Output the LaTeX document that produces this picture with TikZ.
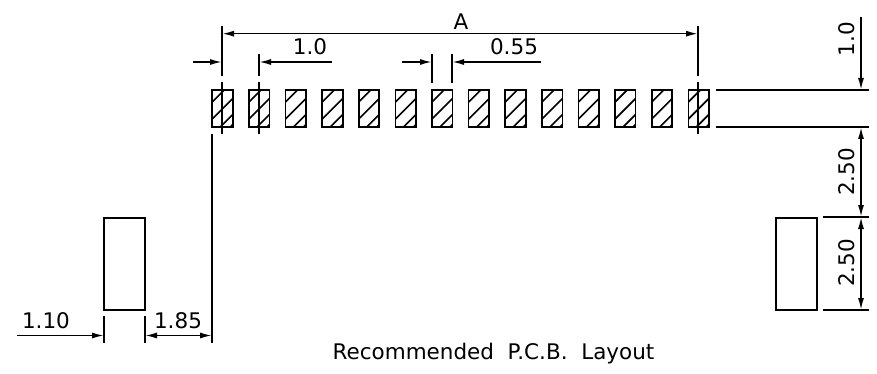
\documentclass[tikz,border=0pt]{standalone}
\usepackage{fontspec}
\setmainfont{DejaVu Sans}
\usetikzlibrary{arrows.meta}
\tikzset{
  dimline/.style={line width=1.6pt,{Latex[length=12pt,width=6pt]}-{Latex[length=12pt,width=6pt]}},
  dimto/.style={line width=1.6pt,-{Latex[length=12pt,width=6pt]}},
  extline/.style={line width=1.5pt},
  padbox/.style={draw,line width=1.7pt},
  baseline/.style={line width=1.9pt},
  dimtext/.style={font=\fontsize{21.5}{21.5}\selectfont,inner sep=0pt},
}
\begin{document}
\begin{tikzpicture}[x=1pt,y=-1pt]
\useasboundingbox (0,0) rectangle (877,374);
% fine pads
\foreach \i in {0,...,13}{
  \begin{scope}[shift={({212.3+36.62*\i},90)}]
    \begin{scope}
      \clip (0,0) rectangle (20.5,37);
      \foreach \s in {12,29,45,55}
        \draw[line width=1.6pt] (0,\s) -- (\s,0);
    \end{scope}
    \draw[padbox] (0,0) rectangle (20.5,37);
  \end{scope}
}
% big pads
\draw[padbox] (104,218) rectangle (145,310);
\draw[padbox] (776,218) rectangle (817,310);
% extension lines on top
\coordinate (alft) at (222,26);
\coordinate (argt) at (698,26);
\coordinate (pitch) at (259,54);
\foreach \x in {222,259,698}
  \draw[extline] (\x,82) -- (\x,134);
\draw[extline] (alft) -- (222,76);
\draw[extline] (argt) -- (698,76);
\draw[extline] (pitch) -- (259,76);
\draw[extline] (432,54) -- (432,83);
\draw[extline] (452,54) -- (452,83);
\draw[extline] (212,134) -- (212,343);
\draw[extline] (104,316) -- (104,343);
\draw[extline] (145,316) -- (145,343);
\draw[baseline] (716,90) -- (869,90);
\draw[baseline] (716,127) -- (869,127);
\draw[baseline] (823,217) -- (869,217);
\draw[baseline] (823,310) -- (869,310);
% dimensions
\draw[dimline] (222,33.7) -- (698,33.7);
\draw[dimto] (193,62) -- (222,62);
\draw[dimto] (332,62) -- (259,62);
\draw[dimto] (402,62) -- (432,62);
\draw[dimto] (541,62) -- (452,62);
\draw[dimto] (861,17) -- (861,90);
\draw[dimline] (861,127) -- (861,217);
\draw[dimline] (861,217) -- (861,310);
\draw[dimto] (17,335.5) -- (104,335.5);
\draw[dimline] (145,335.5) -- (212,335.5);
% labels
\node[dimtext] (lbla) at (461,22) {A};
\node[dimtext] (lblpitch) at (310,47) {1.0};
\node[dimtext] (lblwid) at (514,47) {0.55};
\node[dimtext,rotate=90] (lblrow) at (847,39) {1.0};
\node[dimtext,rotate=90] (lblgap) at (847,172) {2.50};
\node[dimtext,rotate=90] (lblhgt) at (847,263) {2.50};
\node[dimtext] (lblbig) at (46,321) {1.10};
\node[dimtext] (lbloff) at (178,321) {1.85};
\node[inner sep=0pt,font=\fontsize{21.5}{21.5}\selectfont] (lblcap) at (493.5,354) {Recommended\ \ P.C.B.\ \ Layout};
\end{tikzpicture}
\end{document}
